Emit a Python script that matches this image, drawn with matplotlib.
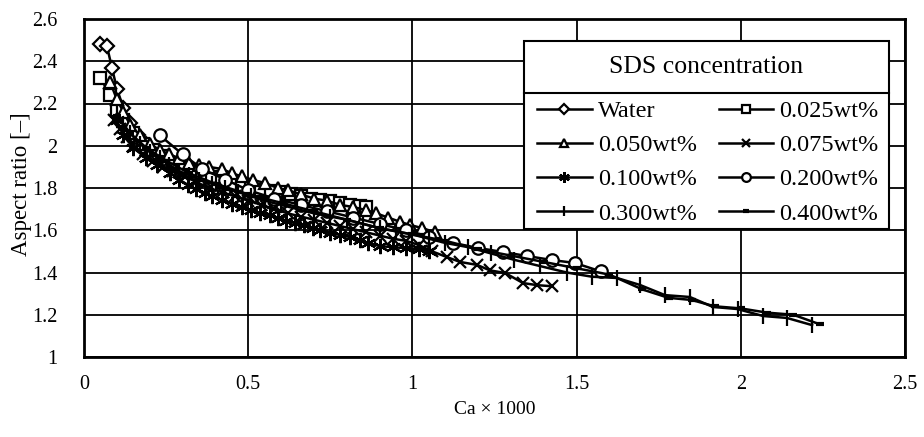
import matplotlib
matplotlib.use("Agg")
import matplotlib.pyplot as plt
from matplotlib.patches import Rectangle
from matplotlib.lines import Line2D

plt.rcParams['font.family'] = ['Liberation Serif', 'DejaVu Serif']

# data (Ca x 1000 vs aspect ratio)
water_x = [0.05, 0.07, 0.085, 0.10, 0.12, 0.14, 0.165, 0.19, 0.22, 0.25, 0.28, 0.32, 0.36,
           0.40, 0.44, 0.48, 0.52, 0.56, 0.60]
water_y = [2.48, 2.47, 2.37, 2.27, 2.18, 2.11, 2.05, 2.01, 1.96, 1.93, 1.90, 1.87, 1.84,
           1.82, 1.80, 1.78, 1.76, 1.74, 1.72]

sds025_x = [0.05, 0.08, 0.10, 0.12, 0.15, 0.18, 0.21, 0.24, 0.27, 0.30, 0.33, 0.36, 0.39, 0.42,
            0.45, 0.48, 0.51, 0.54, 0.57, 0.60, 0.63, 0.66, 0.69, 0.72, 0.75, 0.78, 0.81, 0.84, 0.86]
sds025_y = [2.32, 2.24, 2.17, 2.12, 2.06, 2.01, 1.98, 1.95, 1.92, 1.90, 1.88, 1.86, 1.85, 1.83,
            1.82, 1.81, 1.80, 1.79, 1.785, 1.78, 1.77, 1.76, 1.75, 1.745, 1.74, 1.73, 1.72, 1.715, 1.71]

sds050_x = [0.08, 0.10, 0.12, 0.14, 0.17, 0.20, 0.23, 0.26, 0.29, 0.32, 0.35, 0.38, 0.42, 0.45,
            0.48, 0.515, 0.55, 0.59, 0.62, 0.66, 0.70, 0.74, 0.78, 0.82, 0.86, 0.89, 0.926,
            0.962, 0.993, 1.03, 1.07]
sds050_y = [2.30, 2.22, 2.16, 2.10, 2.05, 2.01, 1.98, 1.96, 1.94, 1.92, 1.91, 1.90, 1.89, 1.87,
            1.855, 1.838, 1.824, 1.80, 1.79, 1.77, 1.75, 1.74, 1.72, 1.71, 1.695, 1.68, 1.66,
            1.64, 1.625, 1.61, 1.59]

sds075_x = [0.09, 0.11, 0.13, 0.15, 0.18, 0.21, 0.24, 0.27, 0.30, 0.34, 0.38, 0.42, 0.46, 0.50,
            0.54, 0.58, 0.62, 0.66, 0.70, 0.74, 0.78, 0.82, 0.86, 0.90, 0.94, 0.98, 1.02, 1.06,
            1.105, 1.145, 1.197, 1.236, 1.282, 1.337, 1.38, 1.425]
sds075_y = [2.12, 2.08, 2.04, 2.00, 1.96, 1.93, 1.90, 1.88, 1.86, 1.83, 1.80, 1.78, 1.76, 1.74,
            1.72, 1.70, 1.68, 1.665, 1.65, 1.635, 1.62, 1.605, 1.59, 1.575, 1.56, 1.55, 1.53, 1.50,
            1.473, 1.45, 1.436, 1.41, 1.398, 1.35, 1.34, 1.335]

sds100_x = [0.10, 0.12, 0.15, 0.19, 0.222, 0.262, 0.29, 0.317, 0.34, 0.368, 0.39, 0.42, 0.45,
            0.481, 0.51, 0.536, 0.565, 0.591, 0.615, 0.643, 0.67, 0.697, 0.72, 0.749, 0.78,
            0.81, 0.84, 0.865, 0.90, 0.94, 0.98, 1.02, 1.05]
sds100_y = [2.12, 2.05, 1.99, 1.94, 1.909, 1.871, 1.84, 1.814, 1.795, 1.776, 1.76, 1.743, 1.725,
            1.71, 1.695, 1.682, 1.67, 1.658, 1.645, 1.635, 1.623, 1.611, 1.60, 1.587, 1.578,
            1.568, 1.555, 1.54, 1.525, 1.52, 1.515, 1.51, 1.50]

sds200_x = [0.23, 0.30, 0.36, 0.43, 0.50, 0.58, 0.66, 0.74, 0.82, 0.90, 0.98, 1.05, 1.124, 1.20,
            1.276, 1.349, 1.425, 1.495, 1.574]
sds200_y = [2.05, 1.96, 1.89, 1.84, 1.79, 1.75, 1.72, 1.69, 1.66, 1.63, 1.60, 1.57, 1.54, 1.516,
            1.497, 1.478, 1.459, 1.445, 1.405]

sds300_x = [0.10, 0.12, 0.14, 0.17, 0.20, 0.23, 0.26, 0.29, 0.32, 0.35, 0.39, 0.43, 0.47, 0.51,
            0.55, 0.60, 0.65, 0.70, 0.75, 0.80, 0.85, 0.90, 0.95, 1.00, 1.05, 1.10, 1.17, 1.24,
            1.31, 1.39, 1.47, 1.547, 1.623, 1.693, 1.769, 1.845, 1.915, 1.99, 2.068, 2.14, 2.217]
sds300_y = [2.15, 2.10, 2.06, 2.01, 1.97, 1.94, 1.91, 1.88, 1.86, 1.84, 1.82, 1.80, 1.78, 1.76,
            1.74, 1.72, 1.70, 1.68, 1.665, 1.65, 1.63, 1.61, 1.595, 1.58, 1.56, 1.54, 1.52, 1.49,
            1.46, 1.43, 1.40, 1.38, 1.374, 1.341, 1.293, 1.284, 1.237, 1.227, 1.194, 1.185, 1.151]

sds400_x = [0.10, 0.14, 0.19, 0.25, 0.32, 0.40, 0.50, 0.60, 0.70, 0.80, 0.90, 1.00, 1.10, 1.20,
            1.30, 1.40, 1.50, 1.60, 1.70, 1.78, 1.85, 1.92, 2.00, 2.08, 2.16, 2.24]
sds400_y = [2.14, 2.06, 1.99, 1.93, 1.87, 1.82, 1.77, 1.73, 1.69, 1.65, 1.61, 1.58, 1.55, 1.51,
            1.48, 1.45, 1.42, 1.39, 1.32, 1.28, 1.27, 1.24, 1.23, 1.21, 1.20, 1.155]

series = [
    ('Water', water_x, water_y, 'D', 7),
    ('0.025wt%', sds025_x, sds025_y, 's', 9),
    ('0.050wt%', sds050_x, sds050_y, '^', 9),
    ('0.075wt%', sds075_x, sds075_y, 'x', 9),
    ('0.100wt%', sds100_x, sds100_y, (6, 2, 0), 11),
    ('0.200wt%', sds200_x, sds200_y, 'o', 9),
    ('0.300wt%', sds300_x, sds300_y, '|', 11),
    ('0.400wt%', sds400_x, sds400_y, '_', 6),
]

fig = plt.figure(figsize=(9.24, 4.37), dpi=100)
ax = fig.add_axes([84 / 924, 1 - 357 / 437, (905 - 84) / 924, (357 - 19) / 437])

handles = {}
for label, xs, ys, mk, ms in series:
    mew = 3 if mk == '_' else 1.6
    line, = ax.plot(xs, ys, color='black', lw=1.8, marker=mk, markersize=ms,
                    markerfacecolor='white', markeredgecolor='black', markeredgewidth=mew,
                    label=label)
    handles[label] = line

ax.set_xlim(0, 2.5)
ax.set_ylim(1, 2.6)
ax.set_xticks([0, 0.5, 1, 1.5, 2, 2.5])
ax.set_xticklabels(['0', '0.5', '1', '1.5', '2', '2.5'])
ax.set_yticks([1, 1.2, 1.4, 1.6, 1.8, 2, 2.2, 2.4, 2.6])
ax.set_yticklabels(['1', '1.2', '1.4', '1.6', '1.8', '2', '2.2', '2.4', '2.6'])
ax.tick_params(length=0, labelsize=14.5)
ax.tick_params(axis='x', pad=13)
ax.tick_params(axis='y', pad=19)
ax.grid(True, color='black', lw=1.3)
ax.set_axisbelow(True)
for sp in ax.spines.values():
    sp.set_linewidth(2)
ax.set_xlabel('Ca × 1000', fontsize=14, labelpad=5)
ax.set_ylabel('Aspect ratio [–]', fontsize=16.5, va='center')
ax.yaxis.set_label_coords((21 - 84) / 821, 0.51)

# legend box with title row, like the reference
x0, x1 = 524 / 924, 889 / 924
ytop, ymid, ybot = 1 - 41 / 437, 1 - 93 / 437, 1 - 229 / 437
fig.patches.append(Rectangle((x0, ybot), x1 - x0, ytop - ybot, transform=fig.transFigure,
                             facecolor='white', edgecolor='black', lw=1.5, zorder=5))
fig.lines.append(Line2D([x0, x1], [ymid, ymid], transform=fig.transFigure,
                        color='black', lw=1.5, zorder=6))
fig.text((x0 + x1) / 2, (ytop + ymid) / 2, 'SDS concentration', fontsize=18.5,
         ha='center', va='center', zorder=7)

order = ['Water', '0.050wt%', '0.100wt%', '0.300wt%',
         '0.025wt%', '0.075wt%', '0.200wt%', '0.400wt%']
leg = fig.legend([handles[k] for k in order], order, ncol=2, frameon=False,
                 loc='upper left', bbox_to_anchor=(537 / 924, 1 - 100 / 437),
                 bbox_transform=fig.transFigure, borderpad=0, borderaxespad=0,
                 fontsize=17.5, handlelength=2.25, handletextpad=0.25,
                 columnspacing=0.9, labelspacing=0.5, markerscale=0.7)
leg.set_zorder(8)

fig.savefig('out.png', dpi=100)
